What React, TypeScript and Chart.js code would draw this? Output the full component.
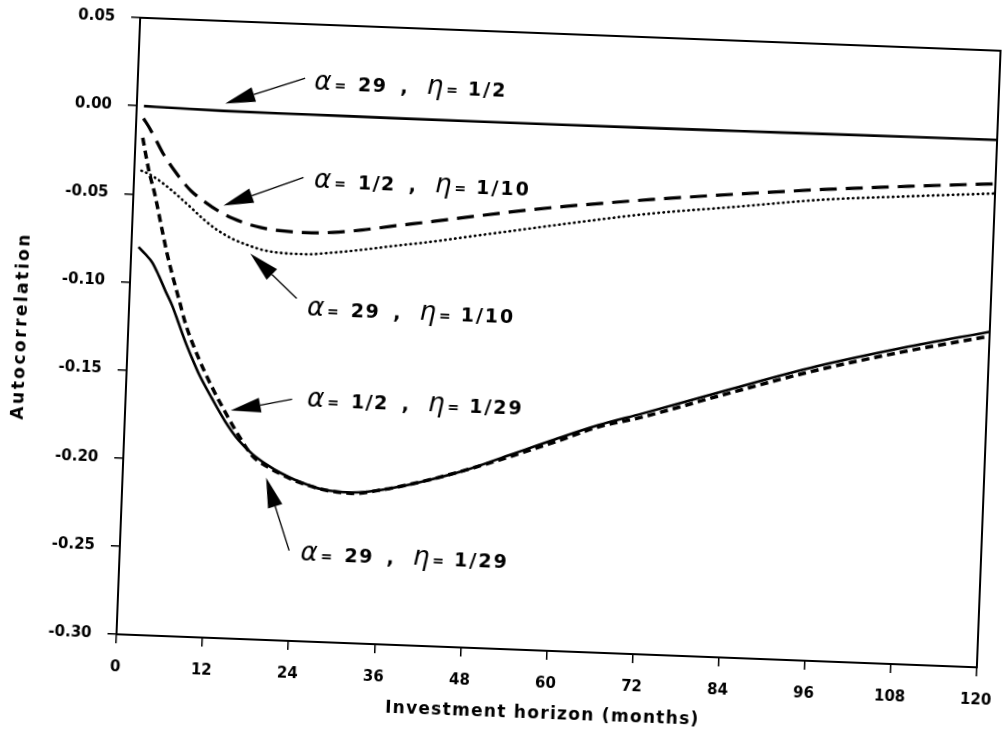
import React, { useEffect, useRef } from "react";
import { Chart, registerables } from "chart.js";

Chart.register(...registerables);

// ---------- data ----------
const xTickValues = [0, 12, 24, 36, 48, 60, 72, 84, 96, 108, 120];
const yTickValues = [-0.3, -0.25, -0.2, -0.15, -0.1, -0.05, 0.0, 0.05];

// alpha = 29, eta = 1/2 (solid, near zero)
const monthsA = [1, 6, 12, 24, 36, 48, 60, 72, 84, 96, 108, 120];
const valuesA = [0.0, -0.0005, -0.001, -0.0012, -0.0014, -0.0015, -0.0015, -0.0014, -0.0012, -0.001, -0.0008, -0.0006];

// alpha = 1/2, eta = 1/10 (long dashes)
const monthsB = [1, 2, 3, 4, 6, 8, 10, 12, 14, 16, 18, 20, 24, 28, 32, 36, 42, 48, 54, 60, 72, 84, 96, 108, 120];
const valuesB = [-0.007, -0.013, -0.02, -0.027, -0.038, -0.047, -0.053, -0.058, -0.0618, -0.0645, -0.0664, -0.0675, -0.0682, -0.0675, -0.0655, -0.0628, -0.059, -0.055, -0.0512, -0.0478, -0.042, -0.037, -0.0325, -0.0288, -0.0255];

// alpha = 29, eta = 1/10 (dotted)
const monthsC = [1, 2, 3, 4, 5, 6, 7, 8, 10, 12, 14, 16, 18, 20, 24, 28, 32, 36, 42, 48, 54, 60, 72, 84, 96, 108, 120];
const valuesC = [-0.0367, -0.0383, -0.0405, -0.0432, -0.0462, -0.0494, -0.0528, -0.0562, -0.0632, -0.069, -0.0733, -0.0763, -0.0787, -0.08, -0.0805, -0.079, -0.0768, -0.0742, -0.0705, -0.0662, -0.062, -0.0578, -0.05, -0.0442, -0.0383, -0.0345, -0.031];

// alpha = 1/2, eta = 1/29 (short dashes)
const monthsD = [1, 2, 3, 4, 5, 6, 7, 8, 10, 12, 14, 16, 18, 20, 22, 24, 28, 32, 36, 42, 48, 54, 60, 66, 72, 84, 96, 108, 120];
const valuesD = [-0.018, -0.036, -0.05, -0.0666, -0.083, -0.097, -0.11, -0.123, -0.142, -0.158, -0.172, -0.185, -0.196, -0.2015, -0.2055, -0.209, -0.2135, -0.215, -0.2125, -0.2065, -0.199, -0.1905, -0.1815, -0.172, -0.1655, -0.15, -0.1352, -0.1228, -0.112];

// alpha = 29, eta = 1/29 (solid)
const monthsE = [1, 2, 3, 4, 5, 6, 7, 8, 9, 10, 12, 14, 16, 18, 20, 22, 24, 28, 32, 36, 42, 48, 54, 60, 66, 72, 84, 96, 108, 120];
const valuesE = [-0.08, -0.084, -0.0885, -0.096, -0.1045, -0.1125, -0.1225, -0.1325, -0.1415, -0.15, -0.164, -0.177, -0.1875, -0.195, -0.2005, -0.205, -0.2085, -0.2135, -0.2145, -0.2125, -0.2065, -0.199, -0.1895, -0.18, -0.171, -0.1635, -0.148, -0.133, -0.1205, -0.1095];

// annotation texts and anchors (data coordinates)
const labelAlpha = ["29", "1/2", "29", "1/2", "29"];
const labelEta = ["1/2", "1/10", "1/10", "1/29", "1/29"];
const labelMonth = [24.6, 25.1, 24.8, 25.3, 25.2];
const labelValue = [0.0173, -0.0384, -0.111, -0.1628, -0.2503];
const arrowTailMonth = [23.3, 23.6, 23.3, 23.2, 23.6];
const arrowTailValue = [0.0193, -0.037, -0.1057, -0.163, -0.2488];
const arrowTipMonth = [12.3, 12.6, 16.6, 14.7, 20.0];
const arrowTipValue = [0.0032, -0.0547, -0.0813, -0.1707, -0.208];

const xTitle = "Investment horizon (months)";
const yTitle = "Autocorrelation";

const toPoints = (xs: number[], ys: number[]) => xs.map((x, i) => ({ x, y: ys[i] }));

const FONT = "'DejaVu Sans', 'Liberation Sans', sans-serif";

const setSpacing = (ctx: any, s: string) => {
  try { ctx.letterSpacing = s; } catch (e) {}
};

const overlayPlugin = {
  id: "overlay",
  afterDraw(chart: any) {
    const { ctx, chartArea: a, scales } = chart;
    const xs = scales.x;
    const ys = scales.y;
    ctx.save();
    // frame
    ctx.strokeStyle = "#000";
    ctx.lineWidth = 2;
    ctx.strokeRect(a.left, a.top, a.right - a.left, a.bottom - a.top);

    // axis titles
    ctx.fillStyle = "#000";
    ctx.font = `bold 17px ${FONT}`;
    ctx.textAlign = "center";
    ctx.textBaseline = "middle";
    setSpacing(ctx, "1.3px");
    ctx.fillText(xTitle, (a.left + a.right) / 2 - 2, a.bottom + 64);
    ctx.save();
    setSpacing(ctx, "2.5px");
    ctx.translate(22, (a.top + a.bottom) / 2 + 4);
    ctx.rotate(-Math.PI / 2);
    ctx.fillText(yTitle, 0, 0);
    ctx.restore();
    setSpacing(ctx, "0px");

    for (let i = 0; i < labelAlpha.length; i++) {
      // arrow
      const tx = xs.getPixelForValue(arrowTailMonth[i]);
      const ty = ys.getPixelForValue(arrowTailValue[i]);
      const hx = xs.getPixelForValue(arrowTipMonth[i]);
      const hy = ys.getPixelForValue(arrowTipValue[i]);
      const ang = Math.atan2(hy - ty, hx - tx);
      const headLen = 30;
      const headHalf = 7.5;
      const bx = hx - headLen * Math.cos(ang);
      const by = hy - headLen * Math.sin(ang);
      ctx.strokeStyle = "#000";
      ctx.lineWidth = 1.3;
      ctx.beginPath();
      ctx.moveTo(tx, ty);
      ctx.lineTo(bx, by);
      ctx.stroke();
      ctx.beginPath();
      ctx.moveTo(hx, hy);
      ctx.lineTo(bx + headHalf * Math.sin(ang), by - headHalf * Math.cos(ang));
      ctx.lineTo(bx - headHalf * Math.sin(ang), by + headHalf * Math.cos(ang));
      ctx.closePath();
      ctx.fill();

      // label text
      let x = xs.getPixelForValue(labelMonth[i]);
      const base = ys.getPixelForValue(labelValue[i]) + 7;
      ctx.textAlign = "left";
      ctx.textBaseline = "alphabetic";
      const seg = (text: string, font: string, gapAfter: number, spacing = "0px") => {
        ctx.font = font;
        setSpacing(ctx, spacing);
        ctx.fillText(text, x, base);
        x += ctx.measureText(text).width + gapAfter;
      };
      seg("α", `italic 26px ${FONT}`, 3);
      seg("=", `bold 14px ${FONT}`, 12);
      seg(labelAlpha[i], `bold 19px ${FONT}`, 13, "1.5px");
      seg(",", `bold 19px ${FONT}`, 19);
      seg("η", `italic 26px ${FONT}`, 3);
      seg("=", `bold 14px ${FONT}`, 10);
      seg(labelEta[i], `bold 19px ${FONT}`, 0, "2px");
      setSpacing(ctx, "0px");
    }
    ctx.restore();
  },
};

export default function App() {
  const canvasRef = useRef<HTMLCanvasElement | null>(null);

  useEffect(() => {
    const canvas = canvasRef.current;
    if (!canvas) return;
    const lineBase = {
      borderColor: "#000",
      pointRadius: 0,
      fill: false,
      cubicInterpolationMode: "monotone" as const,
    };
    const chart = new Chart(canvas, {
      type: "line",
      data: {
        datasets: [
          { ...lineBase, label: "α=29, η=1/2", data: toPoints(monthsA, valuesA), borderWidth: 2.6 },
          { ...lineBase, label: "α=1/2, η=1/10", data: toPoints(monthsB, valuesB), borderWidth: 3.2, borderDash: [17, 9] },
          { ...lineBase, label: "α=29, η=1/10", data: toPoints(monthsC, valuesC), borderWidth: 2.6, borderDash: [0.5, 4.5], borderCapStyle: "round" },
          { ...lineBase, label: "α=1/2, η=1/29", data: toPoints(monthsD, valuesD), borderWidth: 3.5, borderDash: [8, 5] },
          { ...lineBase, label: "α=29, η=1/29", data: toPoints(monthsE, valuesE), borderWidth: 2.6 },
        ],
      },
      options: {
        animation: false,
        responsive: false,
        devicePixelRatio: 1,
        layout: { padding: { left: 0, right: 51, top: 34, bottom: 0 } },
        plugins: { legend: { display: false }, tooltip: { enabled: false } },
        scales: {
          x: {
            type: "linear",
            min: 0,
            max: 120,
            afterBuildTicks: (scale: any) => {
              scale.ticks = xTickValues.map((v) => ({ value: v }));
            },
            afterFit: (scale: any) => {
              scale.height = 102;
              scale.paddingLeft = 0;
              scale.paddingRight = 0;
            },
            ticks: {
              color: "#000",
              font: { family: FONT, size: 15, weight: "bold" },
              padding: 15,
              maxRotation: 0,
              callback: (v: any) => String(v),
            },
            grid: { display: true, drawOnChartArea: false, drawTicks: true, tickLength: 9, color: "#000", lineWidth: 1.5 },
            border: { display: true, color: "#000", width: 2 },
          },
          y: {
            type: "linear",
            min: -0.3,
            max: 0.05,
            afterBuildTicks: (scale: any) => {
              scale.ticks = yTickValues.map((v) => ({ value: v }));
            },
            afterFit: (scale: any) => {
              scale.width = 128;
              scale.paddingTop = 0;
              scale.paddingBottom = 0;
            },
            ticks: {
              color: "#000",
              font: { family: FONT, size: 15, weight: "bold" },
              padding: 16,
              callback: (v: any) => Number(v).toFixed(2),
            },
            grid: { display: true, drawOnChartArea: false, drawTicks: true, tickLength: 9, color: "#000", lineWidth: 1.5 },
            border: { display: true, color: "#000", width: 2 },
          },
        },
      },
      plugins: [overlayPlugin],
    } as any);
    return () => chart.destroy();
  }, []);

  return (
    <div style={{ position: "absolute", left: 0, top: 0, width: 1002, height: 753, overflow: "hidden", background: "#fff" }}>
      <div style={{ position: "absolute", left: 0, top: 0, width: 1040, height: 753, transform: "rotate(2.2deg)", transformOrigin: "558px 343px" }}>
        <canvas ref={canvasRef} width={1040} height={753} style={{ display: "block" }} />
      </div>
    </div>
  );
}
